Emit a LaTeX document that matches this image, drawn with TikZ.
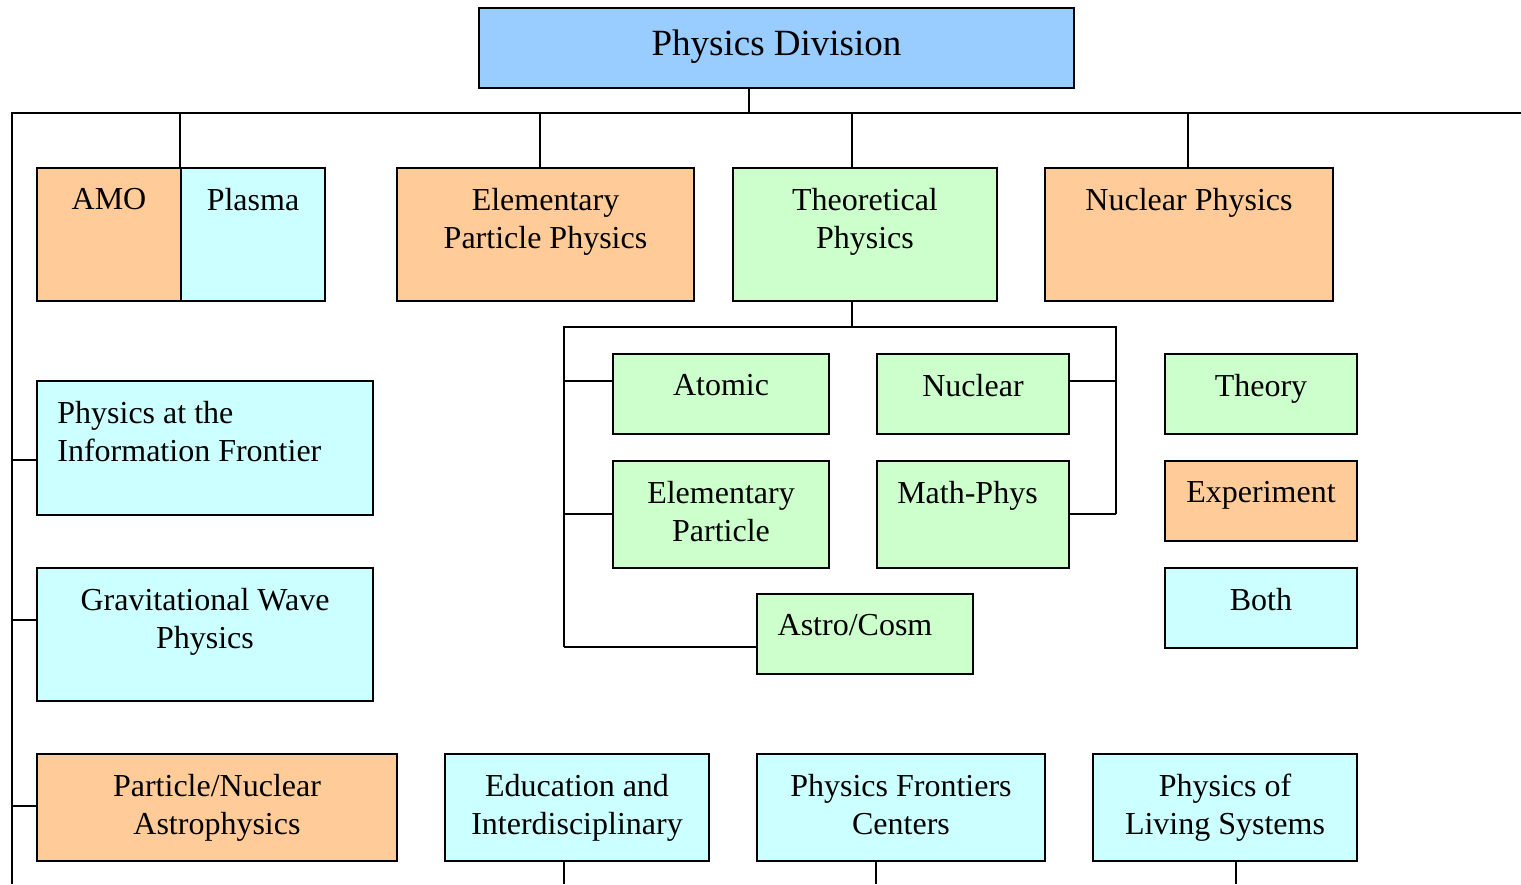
\documentclass[tikz,border=0pt]{standalone}
\usepackage{fontspec}
\setmainfont{Liberation Serif}
\definecolor{cblue}{HTML}{99CCFF}
\definecolor{corange}{HTML}{FFCC99}
\definecolor{ccyan}{HTML}{CCFFFF}
\definecolor{cgreen}{HTML}{CCFFCC}
\begin{document}
\begin{tikzpicture}[x=0.5pt,y=-0.5pt,
  box/.style={draw=black, line width=1pt, inner sep=0pt, anchor=north west},
  lbl/.style={anchor=north, inner sep=0pt, yshift=-10.5pt, align=center, font=\fontsize{16}{19}\selectfont},
  lbll/.style={anchor=north west, inner sep=0pt, yshift=-10.5pt, xshift=10.5pt, align=left, font=\fontsize{16}{19}\selectfont},
  ttl/.style={anchor=north, inner sep=0pt, yshift=-11.2pt, align=center, font=\fontsize{18.5}{22}\selectfont},
  conn/.style={line width=1pt}]
\useasboundingbox (0,0) rectangle (1521,884);

% junction coordinates
\coordinate (busL) at (12,113);
\coordinate (busR) at (1521,113);
\coordinate (botL) at (12,884);
\coordinate (d0) at (749,113);
\coordinate (d1) at (180,113);
\coordinate (d2) at (540,113);
\coordinate (d3) at (852,113);
\coordinate (d4) at (1188,113);
\coordinate (t0) at (852,327);
\coordinate (tL) at (564,327);
\coordinate (tR) at (1116,327);
\coordinate (tLb) at (564,647);
\coordinate (tRb) at (1116,514);
\coordinate (l1) at (12,460);
\coordinate (l2) at (12,620);
\coordinate (l3) at (12,806);
\coordinate (b1) at (564,884);
\coordinate (b2) at (876,884);
\coordinate (b3) at (1236,884);

% boxes
\node[box, fill=cblue, minimum width=297.5pt, minimum height=40pt,
  label={[ttl]north:Physics Division}] (div) at (478,7) {};

\node[box, fill=corange, minimum width=72pt, minimum height=66.5pt,
  label={[lbl]north:AMO}] (amo) at (36,167) {};
\node[box, fill=ccyan, minimum width=72pt, minimum height=66.5pt,
  label={[lbl]north:Plasma}] (plasma) at (180,167) {};
\node[box, fill=corange, minimum width=148.5pt, minimum height=66.5pt,
  label={[lbl]north:{Elementary\\Particle Physics}}] (epp) at (396,167) {};
\node[box, fill=cgreen, minimum width=132pt, minimum height=66.5pt,
  label={[lbl]north:{Theoretical\\Physics}}] (theo) at (732,167) {};
\node[box, fill=corange, minimum width=144pt, minimum height=66.5pt,
  label={[lbl]north:Nuclear Physics}] (np) at (1044,167) {};

\node[box, fill=cgreen, minimum width=108pt, minimum height=40pt,
  label={[lbl]north:Atomic}] (atomic) at (612,353) {};
\node[box, fill=cgreen, minimum width=96pt, minimum height=40pt,
  label={[lbl]north:Nuclear}] (nuclear) at (876,353) {};
\node[box, fill=cgreen, minimum width=108pt, minimum height=53.5pt,
  label={[lbl]north:{Elementary\\Particle}}] (ep) at (612,460) {};
\node[box, fill=cgreen, minimum width=96pt, minimum height=53.5pt,
  label={[lbl,xshift=-2.75pt]north:Math-Phys}] (mp) at (876,460) {};
\node[box, fill=cgreen, minimum width=108pt, minimum height=40pt,
  label={[lbl,xshift=-5pt]north:Astro/Cosm}] (astro) at (756,593) {};

\node[box, fill=cgreen, minimum width=96pt, minimum height=40pt,
  label={[lbl]north:Theory}] (theory) at (1164,353) {};
\node[box, fill=corange, minimum width=96pt, minimum height=40pt,
  label={[lbl]north:Experiment}] (exper) at (1164,460) {};
\node[box, fill=ccyan, minimum width=96pt, minimum height=40pt,
  label={[lbl]north:Both}] (both) at (1164,567) {};

\node[box, fill=ccyan, minimum width=168pt, minimum height=67pt,
  label={[lbll]north west:{Physics at the\\Information Frontier}}] (piff) at (36,380) {};
\node[box, fill=ccyan, minimum width=168pt, minimum height=66.5pt,
  label={[lbl]north:{Gravitational Wave\\Physics}}] (gw) at (36,567) {};
\node[box, fill=corange, minimum width=180pt, minimum height=53.5pt,
  label={[lbl]north:{Particle/Nuclear\\Astrophysics}}] (pna) at (36,753) {};
\node[box, fill=ccyan, minimum width=132pt, minimum height=53.5pt,
  label={[lbl]north:{Education and\\Interdisciplinary}}] (edu) at (444,753) {};
\node[box, fill=ccyan, minimum width=144pt, minimum height=53.5pt,
  label={[lbl]north:{Physics Frontiers\\Centers}}] (pfc) at (756,753) {};
\node[box, fill=ccyan, minimum width=132pt, minimum height=53.5pt,
  label={[lbl]north:{Physics of\\Living Systems}}] (pls) at (1092,753) {};

% connectors
\draw[conn] (d0 |- div.south) -- (d0);
\draw[conn] (botL) -- (busL) -- (busR);
\draw[conn] (d1) -- (d1 |- amo.north);
\draw[conn] (d2) -- (d2 |- epp.north);
\draw[conn] (d3) -- (d3 |- theo.north);
\draw[conn] (d4) -- (d4 |- np.north);

\draw[conn] (t0 |- theo.south) -- (t0);
\draw[conn] (tLb) -- (tL) -- (tR) -- (tRb);
\draw[conn] ([yshift=6.5pt]atomic.west) -- ([yshift=6.5pt]atomic.west -| tL);
\draw[conn] ([yshift=6.5pt]nuclear.east) -- ([yshift=6.5pt]nuclear.east -| tR);
\draw[conn] (tRb -| ep.west) -- (tRb -| tL);
\draw[conn] (tRb -| mp.east) -- (tRb);
\draw[conn] (tLb) -- (tLb -| astro.west);

\draw[conn] (l1) -- (l1 -| piff.west);
\draw[conn] (l2) -- (l2 -| gw.west);
\draw[conn] (l3) -- (l3 -| pna.west);

\draw[conn] (b1 |- edu.south) -- (b1);
\draw[conn] (b2 |- pfc.south) -- (b2);
\draw[conn] (b3 |- pls.south) -- (b3);
\end{tikzpicture}
\end{document}
